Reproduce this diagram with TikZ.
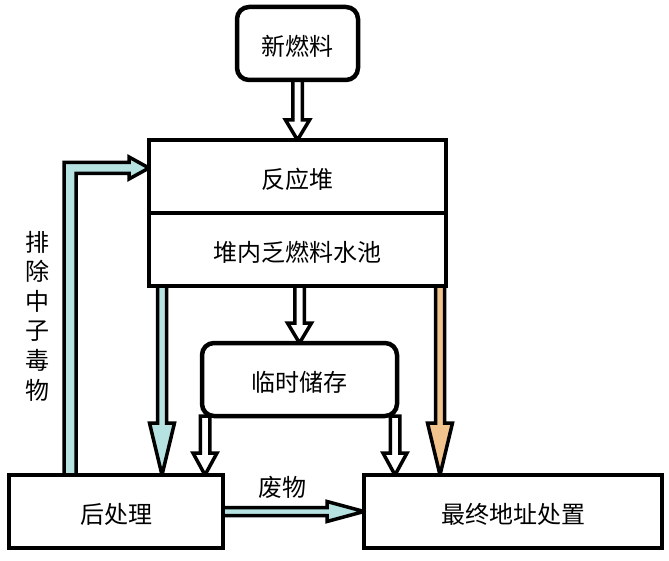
\documentclass[tikz,border=0pt]{standalone}
\usepackage{fontspec}
\setmainfont{Noto Sans CJK SC}
\usetikzlibrary{calc,backgrounds}

\definecolor{coolblue}{RGB}{182,226,226}
\definecolor{warmtan}{RGB}{240,196,140}

\tikzset{
 box/.style={rectangle,draw,line width=4.5pt,fill=white,inner sep=0pt,outer sep=0pt,
   minimum height=73pt,text height=24pt,text depth=0pt,font=\fontsize{24}{24}\selectfont},
 rbox/.style={box,rounded corners=12pt},
 fat/.style n args={4}{draw,line width=3.5pt,fill=#1,
   to path={($(\tikztotarget)!#2!(\tikztostart)$) coordinate (fa-h)
     ($(\tikztostart)!#3!90:(\tikztotarget)$)
     -- ($(fa-h)!#3!90:(\tikztotarget)$) -- ($(fa-h)!#4!90:(\tikztotarget)$)
     -- (\tikztotarget)
     -- ($(fa-h)!#4!-90:(\tikztotarget)$) -- ($(fa-h)!#3!-90:(\tikztotarget)$)
     -- ($(\tikztostart)!#3!-90:(\tikztotarget)$) -- cycle}}
}

\begin{document}
\begin{tikzpicture}[x=1pt,y=-1pt]
\useasboundingbox (0,0) rectangle (669,561);
% boxes
\node [rbox,minimum width=121pt] (fuel) at (297.5,43.5) {新燃料};
\node [box,minimum width=297pt] (reactor) at (297.5,176.5) {反应堆};
\node [box,minimum width=297pt,anchor=north] (pool) at (reactor.south) {堆内乏燃料水池};
\node [rbox,minimum width=195pt] (store) at (299.5,379.5) {临时储存};
\node [box,minimum width=214pt] (post) at (116,511.5) {后处理};
\node [box,minimum width=298pt] (final) at (513,511.5) {最终地址处置};
% labels
\node [font=\fontsize{24}{29.6}\selectfont,align=center] (purge) at (37,316) {排\\除\\中\\子\\毒\\物};
\node [font=\fontsize{24}{24}\selectfont] (waste) at (282,487) {废物};
% end points
\coordinate (st-a) at (store.north |- pool.south);
\coordinate (bl-a) at ([xshift=13pt]pool.south west);
\coordinate (bl-b) at (bl-a |- post.north);
\coordinate (or-a) at ([xshift=-6pt]pool.south east);
\coordinate (or-b) at (or-a |- final.north);
\coordinate (sl-a) at ([xshift=3pt]store.south west);
\coordinate (sl-b) at (sl-a |- post.north);
\coordinate (sr-a) at ([xshift=-2pt]store.south east);
\coordinate (sr-b) at (sr-a |- final.north);
\coordinate (fb-a) at ([xshift=61pt]post.north west);
\coordinate (fb-b) at ([yshift=8.5pt]reactor.west);
% arrows
\begin{scope}[on background layer]
\fill [white] (0,0) rectangle (669,561);
\draw [fat={white}{20pt}{4.75pt}{12pt}] (fuel.south) to (reactor.north);
\draw [fat={white}{20pt}{4.75pt}{12pt}] (st-a) to (store.north);
\draw [fat={white}{22pt}{4.75pt}{12pt}] (sl-a) to (sl-b);
\draw [fat={white}{22pt}{4.75pt}{12pt}] (sr-a) to (sr-b);
\draw [fat={coolblue}{52pt}{4.5pt}{12.5pt}] (bl-a) to (bl-b);
\draw [fat={warmtan}{52pt}{4.5pt}{12.5pt}] (or-a) to (or-b);
\draw [fat={coolblue}{37pt}{4pt}{10pt}] (post.east) to (final.west);
\draw [line width=3.5pt,fill=coolblue] let \p1=(fb-a), \p2=(fb-b) in
  (\x1-6pt,\y1) -- (\x1-6pt,\y2+5.5pt) -- (\x2-20pt,\y2+5.5pt) -- (\x2-20pt,\y2+11pt)
  -- (\x2,\y2) -- (\x2-20pt,\y2-11pt) -- (\x2-20pt,\y2-5.5pt) -- (\x1+6pt,\y2-5.5pt)
  -- (\x1+6pt,\y1) -- cycle;
\end{scope}
\end{tikzpicture}
\end{document}
